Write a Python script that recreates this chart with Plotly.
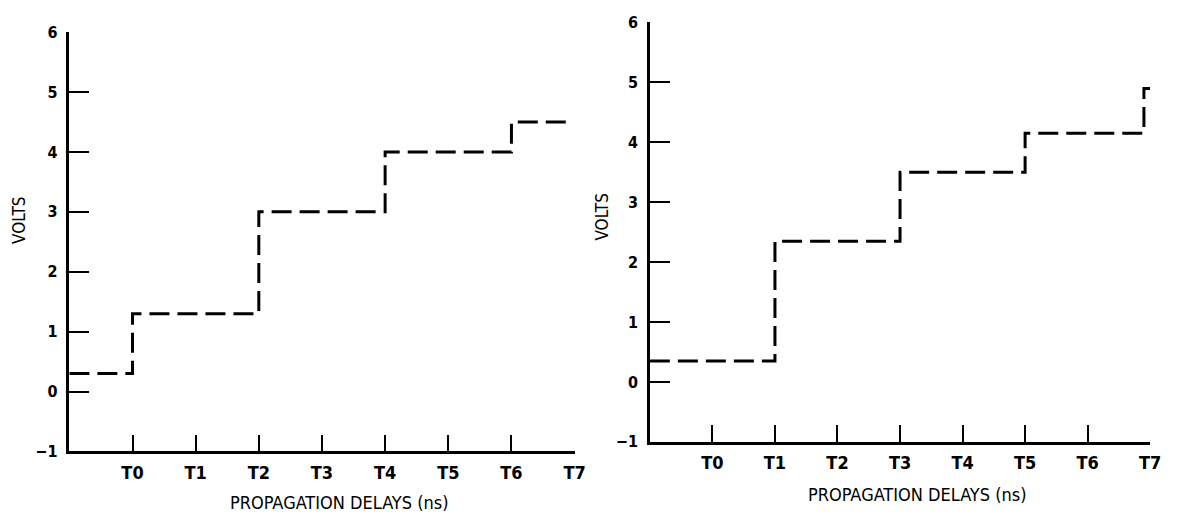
import plotly.graph_objects as go

# Data
tick_labels = ["T0", "T1", "T2", "T3", "T4", "T5", "T6", "T7"]
tick_positions = [0, 1, 2, 3, 4, 5, 6, 7]
y_ticks = [-1, 0, 1, 2, 3, 4, 5, 6]

left_x = [-1, 0, 2, 4, 6, 6.95]
left_y = [0.3, 1.3, 3.0, 4.0, 4.5, 4.5]

right_x = [-1, 1, 3, 5, 6.9, 7.0]
right_y = [0.35, 2.35, 3.5, 4.15, 4.9, 4.9]

W, H = 1181, 527
FONT = "DejaVu Sans Condensed, Liberation Sans Narrow, sans-serif"

fig = go.Figure()
fig.add_trace(go.Scatter(x=left_x, y=left_y, mode="lines", line_shape="hv",
                         line=dict(color="black", width=3, dash="20px,8px"),
                         xaxis="x", yaxis="y", showlegend=False))
fig.add_trace(go.Scatter(x=right_x, y=right_y, mode="lines", line_shape="hv",
                         line=dict(color="black", width=3, dash="20px,8px"),
                         xaxis="x2", yaxis="y2", showlegend=False))

def xax(domain, anchor):
    return dict(domain=domain, anchor=anchor, range=[-1, 7], tickvals=tick_positions,
                ticktext=tick_labels, ticks="inside", ticklen=17, tickwidth=2,
                tickcolor="black", showline=True, linecolor="black", linewidth=2.5,
                showgrid=False, zeroline=False, ticklabelstandoff=3,
                tickfont=dict(family=FONT, size=18, color="black", weight=600))

def yax(domain, anchor):
    return dict(domain=domain, anchor=anchor, range=[-1, 6], tickvals=y_ticks,
                ticks="inside", ticklen=20, tickwidth=2, tickcolor="black",
                showline=True, linecolor="black", linewidth=2.5,
                showgrid=False, zeroline=False, ticklabelstandoff=6,
                tickfont=dict(family=FONT, size=16, color="black", weight=600))

ann_font = dict(family=FONT, size=18, color="black")
vfont = dict(family=FONT, size=17, color="black")

fig.update_layout(
    width=W, height=H, margin=dict(l=0, r=0, t=0, b=0),
    paper_bgcolor="white", plot_bgcolor="white",
    xaxis=xax([70 / W, 580 / W], "y"),
    yaxis=yax([(H - 459) / H, (H - 24) / H], "x"),
    xaxis2=xax([656 / W, 1161 / W], "y2"),
    yaxis2=yax([(H - 449) / H, (H - 14) / H], "x2"),
    annotations=[
        dict(text="VOLTS", x=19 / W, y=(H - 219) / H, xref="paper", yref="paper",
             xanchor="center", yanchor="middle",
             textangle=-90, showarrow=False, font=vfont),
        dict(text="VOLTS", x=608 / W, y=(H - 216) / H, xref="paper", yref="paper",
             xanchor="center", yanchor="middle",
             textangle=-90, showarrow=False, font=vfont),
        dict(text="PROPAGATION DELAYS (ns)", x=342 / W, y=(H - 512) / H, xref="paper", yref="paper",
             xanchor="center", yanchor="middle", showarrow=False, font=ann_font),
        dict(text="PROPAGATION DELAYS (ns)", x=926 / W, y=(H - 504) / H, xref="paper", yref="paper",
             xanchor="center", yanchor="middle", showarrow=False, font=ann_font),
    ],
)

fig.write_html("out.html")
